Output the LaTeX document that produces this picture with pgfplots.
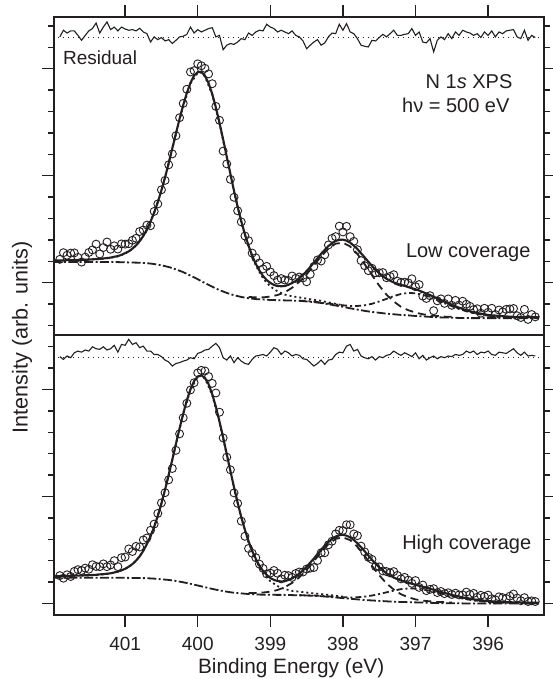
\documentclass[border=0pt]{standalone}
\usepackage{fontspec}
\setmainfont{Liberation Sans}
\usepackage{pgfplots}
\usepackage{pgfplotstable}
\pgfplotsset{compat=1.18}
\definecolor{ink}{HTML}{231F20}

% ---------------- top panel (low coverage) ----------------
\pgfplotstableread{
x y
401.90 16.09
401.85 16.40
401.80 16.28
401.75 16.38
401.70 16.39
401.65 16.18
401.60 15.96
401.55 16.19
401.50 16.41
401.45 16.53
401.40 16.80
401.35 16.34
401.30 16.64
401.25 16.90
401.20 16.56
401.15 16.72
401.10 16.57
401.05 16.81
401.00 16.80
400.95 16.82
400.90 16.98
400.85 17.07
400.80 17.39
400.75 17.46
400.70 17.69
400.65 17.66
400.60 18.33
400.55 18.68
400.50 19.34
400.45 19.78
400.40 20.51
400.35 21.02
400.30 21.87
400.25 22.71
400.20 23.38
400.15 24.04
400.10 24.85
400.05 24.91
400.00 25.23
399.95 25.14
399.90 25.02
399.85 24.76
399.80 24.30
399.75 23.24
399.70 22.59
399.65 21.15
399.60 20.55
399.55 19.83
399.50 18.99
399.45 18.36
399.40 17.84
399.35 17.18
399.30 16.96
399.25 16.38
399.20 16.16
399.15 15.92
399.10 15.64
399.05 15.76
399.00 15.50
398.95 15.33
398.90 15.12
398.85 15.19
398.80 15.12
398.75 15.10
398.70 15.31
398.65 15.20
398.60 15.26
398.55 15.22
398.50 15.04
398.45 15.39
398.40 15.75
398.35 16.06
398.30 16.01
398.25 16.30
398.20 16.76
398.15 17.07
398.10 17.15
398.05 17.64
398.00 17.37
397.95 17.63
397.90 17.15
397.85 16.93
397.80 16.54
397.75 16.03
397.70 15.79
397.65 15.56
397.60 15.67
397.55 15.46
397.50 15.46
397.45 15.47
397.40 15.23
397.35 15.29
397.30 15.37
397.25 15.07
397.20 15.01
397.15 15.02
397.10 14.99
397.05 15.18
397.00 14.81
396.95 14.91
396.90 14.37
396.85 14.26
396.80 14.39
396.75 13.69
396.70 14.15
396.65 14.24
396.60 14.03
396.55 14.24
396.50 13.94
396.45 14.17
396.40 13.95
396.35 14.13
396.30 13.99
396.25 13.89
396.20 13.74
396.15 13.78
396.10 13.57
396.05 13.80
396.00 13.61
395.95 13.80
395.90 13.51
395.85 13.72
395.80 13.63
395.75 13.75
395.70 13.77
395.65 13.79
395.60 13.45
395.55 13.37
395.50 13.75
395.45 13.28
395.40 13.51
395.35 13.40
}\topdata

\pgfplotstableread{
x y
401.90 26.49
401.85 26.80
401.80 26.67
401.75 26.77
401.70 26.77
401.65 26.56
401.60 26.33
401.55 26.56
401.50 26.77
401.45 26.88
401.40 27.14
401.35 26.67
401.30 26.95
401.25 27.19
401.20 26.83
401.15 26.95
401.10 26.77
401.05 26.95
401.00 26.86
400.95 26.80
400.90 26.83
400.85 26.77
400.80 26.89
400.75 26.72
400.70 26.64
400.65 26.25
400.60 26.49
400.55 26.36
400.50 26.46
400.45 26.30
400.40 26.36
400.35 26.18
400.30 26.33
400.25 26.49
400.20 26.52
400.15 26.61
400.10 26.95
400.05 26.67
400.00 26.83
399.95 26.72
399.90 26.80
399.85 26.88
399.80 26.92
399.75 26.49
399.70 26.56
399.65 25.89
399.60 26.10
399.55 26.18
399.50 26.14
399.45 26.25
399.40 26.41
399.35 26.36
399.30 26.67
399.25 26.56
399.20 26.72
399.15 26.80
399.10 26.77
399.05 27.08
399.00 26.95
398.95 26.88
398.90 26.72
398.85 26.80
398.80 26.72
398.75 26.64
398.70 26.77
398.65 26.56
398.60 26.49
398.55 26.30
398.50 25.94
398.45 26.10
398.40 26.25
398.35 26.36
398.30 26.10
398.25 26.21
398.20 26.49
398.15 26.67
398.10 26.64
398.05 27.08
398.00 26.80
397.95 27.11
397.90 26.72
397.85 26.64
397.80 26.41
397.75 26.10
397.70 26.05
397.65 26.02
397.60 26.33
397.55 26.30
397.50 26.46
397.45 26.61
397.40 26.49
397.35 26.64
397.30 26.80
397.25 26.56
397.20 26.56
397.15 26.61
397.10 26.64
397.05 26.88
397.00 26.56
396.95 26.72
396.90 26.25
396.85 26.21
396.80 26.41
396.75 25.79
396.70 26.33
396.65 26.49
396.60 26.36
396.55 26.64
396.50 26.41
396.45 26.72
396.40 26.56
396.35 26.80
396.30 26.72
396.25 26.67
396.20 26.56
396.15 26.64
396.10 26.46
396.05 26.72
396.00 26.56
395.95 26.77
395.90 26.49
395.85 26.72
395.80 26.64
395.75 26.77
395.70 26.80
395.65 26.83
395.60 26.49
395.55 26.41
395.50 26.80
395.45 26.33
395.40 26.56
395.35 26.46
}\topres

\pgfplotstableread{
x y
402.00 16.03
401.95 16.04
401.90 16.04
401.85 16.04
401.80 16.05
401.75 16.05
401.70 16.06
401.65 16.06
401.60 16.07
401.55 16.07
401.50 16.08
401.45 16.09
401.40 16.10
401.35 16.11
401.30 16.13
401.25 16.15
401.20 16.17
401.15 16.21
401.10 16.24
401.05 16.30
401.00 16.38
400.95 16.46
400.90 16.59
400.85 16.74
400.80 16.94
400.75 17.18
400.70 17.49
400.65 17.85
400.60 18.28
400.55 18.76
400.50 19.32
400.45 19.92
400.40 20.59
400.35 21.28
400.30 21.98
400.25 22.66
400.20 23.30
400.15 23.87
400.10 24.34
400.05 24.68
400.00 24.84
399.95 24.86
399.90 24.66
399.85 24.32
399.80 23.82
399.75 23.19
399.70 22.47
399.65 21.70
399.60 20.89
399.55 20.09
399.50 19.29
399.45 18.55
399.40 17.87
399.35 17.26
399.30 16.73
399.25 16.26
399.20 15.88
399.15 15.56
399.10 15.31
399.05 15.12
399.00 14.99
398.95 14.89
398.90 14.84
398.85 14.83
398.80 14.84
398.75 14.90
398.70 14.98
398.65 15.08
398.60 15.21
398.55 15.36
398.50 15.54
398.45 15.73
398.40 15.94
398.35 16.14
398.30 16.35
398.25 16.53
398.20 16.71
398.15 16.84
398.10 16.95
398.05 17.00
398.00 17.01
397.95 16.96
397.90 16.87
397.85 16.73
397.80 16.57
397.75 16.37
397.70 16.18
397.65 15.98
397.60 15.78
397.55 15.60
397.50 15.44
397.45 15.30
397.40 15.18
397.35 15.09
397.30 15.01
397.25 14.95
397.20 14.89
397.15 14.85
397.10 14.79
397.05 14.74
397.00 14.69
396.95 14.63
396.90 14.56
396.85 14.49
396.80 14.42
396.75 14.34
396.70 14.26
396.65 14.19
396.60 14.11
396.55 14.04
396.50 13.97
396.45 13.89
396.40 13.83
396.35 13.77
396.30 13.71
396.25 13.66
396.20 13.62
396.15 13.58
396.10 13.55
396.05 13.52
396.00 13.49
395.95 13.47
395.90 13.46
395.85 13.44
395.80 13.43
395.75 13.42
395.70 13.41
395.65 13.40
395.60 13.40
395.55 13.40
395.50 13.39
395.45 13.39
395.40 13.39
395.35 13.38
395.30 13.38
}\topfit

\pgfplotstableread{
x y
402.0 15.96
401.5 15.96
401.1 15.96
401.0 15.95
400.9 15.94
400.8 15.93
400.7 15.91
400.6 15.87
400.5 15.81
400.4 15.73
400.3 15.62
400.2 15.49
400.1 15.33
400.0 15.16
399.9 14.98
399.8 14.81
399.7 14.65
399.6 14.52
399.5 14.41
399.4 14.33
399.3 14.27
399.2 14.23
399.1 14.21
399.0 14.19
398.9 14.18
398.8 14.17
398.7 14.16
398.6 14.15
398.5 14.12
398.4 14.09
398.3 14.05
398.2 13.99
398.1 13.93
398.0 13.87
397.9 13.80
397.8 13.74
397.7 13.68
397.6 13.63
397.5 13.59
397.4 13.55
397.3 13.52
397.2 13.49
397.1 13.47
397.0 13.44
396.9 13.42
396.8 13.40
396.7 13.38
396.6 13.37
396.5 13.36
396.4 13.35
396.2 13.34
395.3 13.34
}\topbg

\pgfplotstableread{
x y
401.6 16.06
401.5 16.07
401.4 16.09
401.3 16.12
401.2 16.16
401.1 16.23
401.0 16.36
400.9 16.57
400.8 16.92
400.7 17.48
400.6 18.26
400.5 19.30
400.4 20.57
400.3 21.95
400.2 23.27
400.1 24.31
400.0 24.81
399.95 24.82
399.9 24.63
399.8 23.79
399.7 22.43
399.6 20.85
399.5 19.25
399.4 17.82
399.3 16.66
399.2 15.80
399.1 15.20
399.0 14.82
398.9 14.59
398.8 14.44
398.7 14.36
398.6 14.31
398.5 14.25
398.4 14.20
398.3 14.15
398.2 14.08
398.1 14.01
398.0 13.94
}\topa

\pgfplotstableread{
x y
399.3 14.33
399.2 14.31
399.1 14.31
399.0 14.35
398.9 14.42
398.8 14.55
398.7 14.76
398.6 15.04
398.5 15.39
398.4 15.81
398.3 16.23
398.2 16.59
398.1 16.82
398.0 16.87
397.9 16.69
397.8 16.34
397.7 15.86
397.6 15.35
397.5 14.86
397.4 14.44
397.3 14.12
397.2 13.87
397.1 13.71
397.0 13.60
396.9 13.52
396.8 13.47
396.7 13.44
396.6 13.41
396.5 13.40
}\topb

\pgfplotstableread{
x y
398.6 14.16
398.4 14.11
398.2 14.02
398.0 13.94
397.9 13.91
397.8 13.91
397.7 13.94
397.6 14.01
397.5 14.12
397.4 14.24
397.3 14.37
397.2 14.47
397.1 14.52
397.05 14.51
397.0 14.50
396.9 14.43
396.8 14.32
396.7 14.18
396.6 14.04
396.5 13.90
396.4 13.77
396.3 13.66
396.2 13.57
396.1 13.51
396.0 13.45
395.9 13.42
395.8 13.40
395.7 13.38
395.5 13.36
395.3 13.36
}\topc

% ---------------- bottom panel (high coverage) ----------------
\pgfplotstableread{
x y
401.90 1.30
401.85 1.18
401.80 1.34
401.75 1.26
401.70 1.50
401.65 1.58
401.60 1.54
401.55 1.65
401.50 1.60
401.45 1.81
401.40 1.73
401.35 1.72
401.30 1.85
401.25 1.72
401.20 1.80
401.15 2.00
401.10 1.72
401.05 2.14
401.00 2.17
400.95 2.55
400.90 2.43
400.85 2.67
400.80 2.64
400.75 2.97
400.70 3.06
400.65 3.42
400.60 3.71
400.55 4.21
400.50 4.70
400.45 5.18
400.40 5.78
400.35 6.31
400.30 7.16
400.25 7.93
400.20 8.68
400.15 9.36
400.10 9.98
400.05 10.32
400.00 10.78
399.95 10.90
399.90 10.87
399.85 10.61
399.80 10.29
399.75 9.84
399.70 8.94
399.65 7.74
399.60 6.84
399.55 6.25
399.50 5.17
399.45 4.68
399.40 3.85
399.35 3.14
399.30 2.57
399.25 2.35
399.20 2.14
399.15 1.84
399.10 1.64
399.05 1.38
399.00 1.42
398.95 1.54
398.90 1.41
398.85 1.15
398.80 1.32
398.75 1.30
398.70 1.22
398.65 1.40
398.60 1.47
398.55 1.47
398.50 1.61
398.45 1.65
398.40 1.68
398.35 2.01
398.30 2.37
398.25 2.37
398.20 2.74
398.15 2.91
398.10 3.25
398.05 3.42
398.00 3.41
397.95 3.68
397.90 3.68
397.85 3.25
397.80 3.17
397.75 2.68
397.70 2.41
397.65 2.16
397.60 2.06
397.55 1.72
397.50 1.71
397.45 1.52
397.40 1.49
397.35 1.43
397.30 1.49
397.25 1.31
397.20 1.15
397.15 1.22
397.10 1.09
397.05 0.94
397.00 1.07
396.95 0.75
396.90 0.86
396.85 0.60
396.80 0.66
396.75 0.69
396.70 0.51
396.65 0.56
396.60 0.46
396.55 0.50
396.50 0.42
396.45 0.48
396.40 0.40
396.35 0.40
396.30 0.53
396.25 0.42
396.20 0.47
396.15 0.29
396.10 0.38
396.05 0.32
396.00 0.39
395.95 0.22
395.90 0.17
395.85 0.31
395.80 0.27
395.75 0.23
395.70 0.34
395.65 0.44
395.60 0.25
395.55 0.13
395.50 0.27
395.45 0.09
395.40 0.12
395.35 0.09
}\botdata

\pgfplotstableread{
x y
401.90 11.54
401.85 11.41
401.80 11.57
401.75 11.49
401.70 11.72
401.65 11.80
401.60 11.75
401.55 11.85
401.50 11.80
401.45 12.00
401.40 11.91
401.35 11.88
401.30 12.00
401.25 11.85
401.20 11.91
401.15 12.07
401.10 11.75
401.05 12.11
401.00 12.07
400.95 12.35
400.90 12.11
400.85 12.19
400.80 11.96
400.75 12.03
400.70 11.80
400.65 11.80
400.60 11.64
400.55 11.64
400.50 11.54
400.45 11.38
400.40 11.29
400.35 11.10
400.30 11.22
400.25 11.26
400.20 11.33
400.15 11.38
400.10 11.49
400.05 11.44
400.00 11.69
399.95 11.75
399.90 11.85
399.85 11.88
399.80 12.03
399.75 12.16
399.70 11.96
399.65 11.49
399.60 11.38
399.55 11.57
399.50 11.26
399.45 11.49
399.40 11.33
399.35 11.22
399.30 11.18
399.25 11.41
399.20 11.57
399.15 11.60
399.10 11.64
399.05 11.57
399.00 11.75
398.95 11.96
398.90 11.88
398.85 11.64
398.80 11.80
398.75 11.72
398.70 11.57
398.65 11.64
398.60 11.60
398.55 11.44
398.50 11.41
398.45 11.26
398.40 11.10
398.35 11.22
398.30 11.38
398.25 11.18
398.20 11.38
398.15 11.41
398.10 11.64
398.05 11.75
398.00 11.72
397.95 12.03
397.90 12.11
397.85 11.80
397.80 11.88
397.75 11.57
397.70 11.49
397.65 11.44
397.60 11.54
397.55 11.38
397.50 11.54
397.45 11.49
397.40 11.60
397.35 11.64
397.30 11.80
397.25 11.69
397.20 11.60
397.15 11.72
397.10 11.64
397.05 11.54
397.00 11.72
396.95 11.44
396.90 11.60
396.85 11.38
396.80 11.49
396.75 11.57
396.70 11.44
396.65 11.54
396.60 11.49
396.55 11.57
396.50 11.54
396.45 11.64
396.40 11.60
396.35 11.64
396.30 11.80
396.25 11.72
396.20 11.80
396.15 11.64
396.10 11.75
396.05 11.72
396.00 11.80
395.95 11.64
395.90 11.60
395.85 11.75
395.80 11.72
395.75 11.69
395.70 11.80
395.65 11.91
395.60 11.72
395.55 11.60
395.50 11.75
395.45 11.57
395.40 11.60
395.35 11.57
}\botres

\pgfplotstableread{
x y
402.00 1.27
401.95 1.28
401.90 1.28
401.85 1.29
401.80 1.29
401.75 1.29
401.70 1.30
401.65 1.30
401.60 1.31
401.55 1.32
401.50 1.32
401.45 1.33
401.40 1.34
401.35 1.36
401.30 1.37
401.25 1.39
401.20 1.41
401.15 1.45
401.10 1.49
401.05 1.55
401.00 1.62
400.95 1.72
400.90 1.84
400.85 2.00
400.80 2.20
400.75 2.46
400.70 2.78
400.65 3.14
400.60 3.59
400.55 4.09
400.50 4.68
400.45 5.32
400.40 6.01
400.35 6.73
400.30 7.46
400.25 8.19
400.20 8.87
400.15 9.50
400.10 10.01
400.05 10.40
400.00 10.61
399.95 10.67
399.90 10.54
399.85 10.25
399.80 9.78
399.75 9.20
399.70 8.50
399.65 7.77
399.60 6.98
399.55 6.20
399.50 5.43
399.45 4.71
399.40 4.04
399.35 3.44
399.30 2.91
399.25 2.46
399.20 2.09
399.15 1.76
399.10 1.52
399.05 1.33
399.00 1.19
398.95 1.10
398.90 1.05
398.85 1.03
398.80 1.04
398.75 1.10
398.70 1.17
398.65 1.28
398.60 1.39
398.55 1.55
398.50 1.72
398.45 1.91
398.40 2.10
398.35 2.31
398.30 2.51
398.25 2.71
398.20 2.88
398.15 3.02
398.10 3.13
398.05 3.19
398.00 3.21
397.95 3.17
397.90 3.09
397.85 2.97
397.80 2.81
397.75 2.63
397.70 2.44
397.65 2.24
397.60 2.04
397.55 1.86
397.50 1.69
397.45 1.55
397.40 1.41
397.35 1.31
397.30 1.21
397.25 1.14
397.20 1.07
397.15 1.02
397.10 0.97
397.05 0.92
397.00 0.87
396.95 0.83
396.90 0.78
396.85 0.74
396.80 0.69
396.75 0.64
396.70 0.59
396.65 0.54
396.60 0.49
396.55 0.45
396.50 0.40
396.45 0.36
396.40 0.32
396.35 0.28
396.30 0.25
396.25 0.22
396.20 0.19
396.15 0.17
396.10 0.15
396.05 0.12
396.00 0.11
395.95 0.10
395.90 0.09
395.85 0.08
395.80 0.07
395.75 0.06
395.70 0.06
395.65 0.05
395.60 0.05
395.55 0.05
395.50 0.04
395.45 0.04
395.40 0.04
395.35 0.04
395.30 0.04
}\botfit

\pgfplotstableread{
x y
402.0 1.20
401.1 1.20
401.0 1.20
400.9 1.19
400.8 1.19
400.7 1.18
400.6 1.16
400.5 1.13
400.4 1.10
400.3 1.05
400.2 0.99
400.1 0.92
400.0 0.84
399.9 0.76
399.8 0.68
399.7 0.61
399.6 0.55
399.5 0.50
399.4 0.47
399.3 0.44
399.2 0.42
399.1 0.41
399.0 0.41
398.9 0.40
398.8 0.40
398.7 0.39
398.6 0.38
398.5 0.37
398.4 0.36
398.3 0.34
398.2 0.31
398.1 0.28
398.0 0.25
397.9 0.22
397.8 0.19
397.7 0.16
397.6 0.14
397.5 0.12
397.4 0.10
397.3 0.08
397.2 0.07
397.1 0.06
397.0 0.05
396.9 0.04
396.8 0.03
396.7 0.02
396.6 0.01
396.5 0.01
396.3 0.00
395.3 0.00
}\botbg

\pgfplotstableread{
x y
401.6 1.30
401.5 1.31
401.4 1.33
401.3 1.36
401.2 1.40
401.1 1.48
401.0 1.61
400.9 1.83
400.8 2.19
400.7 2.77
400.6 3.57
400.5 4.66
400.4 5.99
400.3 7.44
400.2 8.85
400.1 9.99
400.0 10.59
399.95 10.65
399.9 10.51
399.8 9.75
399.7 8.47
399.6 6.94
399.5 5.39
399.4 4.00
399.3 2.85
399.2 2.01
399.1 1.41
399.0 1.04
398.9 0.81
398.8 0.67
398.7 0.59
398.6 0.55
398.5 0.51
398.4 0.47
398.3 0.44
398.2 0.40
398.1 0.36
398.0 0.32
}\bota

\pgfplotstableread{
x y
399.3 0.49
399.2 0.49
399.1 0.51
399.0 0.55
398.9 0.63
398.8 0.76
398.7 0.96
398.6 1.22
398.5 1.57
398.4 1.98
398.3 2.40
398.2 2.77
398.1 3.02
398.0 3.09
397.9 2.96
397.8 2.65
397.7 2.22
397.6 1.76
397.5 1.32
397.4 0.94
397.3 0.65
397.2 0.43
397.1 0.29
397.0 0.19
396.9 0.13
396.8 0.10
396.7 0.07
396.6 0.06
396.5 0.04
}\botb

\pgfplotstableread{
x y
398.6 0.39
398.4 0.37
398.2 0.33
398.0 0.29
397.9 0.28
397.8 0.29
397.7 0.32
397.6 0.37
397.5 0.44
397.4 0.52
397.3 0.60
397.2 0.67
397.1 0.70
397.05 0.70
397.0 0.69
396.9 0.65
396.8 0.59
396.7 0.51
396.6 0.43
396.5 0.34
396.4 0.26
396.3 0.20
396.2 0.14
396.1 0.10
396.0 0.07
395.9 0.05
395.8 0.03
395.7 0.03
395.5 0.01
395.3 0.01
}\botc

\begin{document}
\begin{tikzpicture}
\path[use as bounding box] (-27pt,-32pt) rectangle (249pt,307.5pt);
\begin{axis}[
    scale only axis,
    width=245pt, height=299pt,
    x dir=reverse,
    xmin=395.23, xmax=401.98,
    ymin=-0.54, ymax=27.42,
    xtick={396,397,398,399,400,401},
    ytick={0,5,10,15,20,25},
    yticklabels={},
    minor ytick={1,2,3,4,6,7,8,9,11,12,13,14,16,17,18,19,21,22,23,24,26,27},
    tick align=outside,
    major tick length=6pt,
    minor tick length=3pt,
    xtick pos=both, ytick pos=both,
    xticklabel pos=bottom,
    axis line style={ink, line width=0.7pt},
    every tick/.style={ink, line width=0.7pt},
    /pgf/number format/assume math mode=true,
    tick label style={font=\fontsize{9.5}{11}\selectfont, text=ink},
    xticklabel style={yshift=-1.8pt},
    xlabel={Binding Energy (eV)},
    ylabel={Intensity (arb. units)},
    every axis x label/.style={at={(axis description cs:0.484,-0.0975)}, anchor=base,
        font=\fontsize{10.4}{12}\selectfont, text=ink},
    every axis y label/.style={at={(axis description cs:-0.0653,0.464)}, rotate=90, anchor=center,
        font=\fontsize{10.8}{12}\selectfont, text=ink},
    clip=true,
]
% divider between the panels and residual zero lines
\addplot[ink, line width=0.7pt] coordinates {(401.98,12.55) (395.23,12.55)};
\addplot[ink, dotted, line width=0.5pt] coordinates {(401.92,26.44) (395.28,26.44)};
\addplot[ink, dotted, line width=0.5pt] coordinates {(401.92,11.52) (395.28,11.52)};

% residuals
\addplot[ink, line width=0.55pt] table {\topres};
\addplot[ink, line width=0.55pt] table {\botres};

% components
\addplot[ink, line width=0.9pt, dash pattern=on 1pt off 1.5pt] table {\topa};
\addplot[ink, line width=0.9pt, dash pattern=on 4pt off 2.5pt] table {\topb};
\addplot[ink, line width=0.9pt, dash pattern=on 3pt off 1.5pt on 1pt off 1.5pt] table {\topc};
\addplot[ink, line width=0.9pt, dash pattern=on 1pt off 1.5pt] table {\bota};
\addplot[ink, line width=0.9pt, dash pattern=on 4pt off 2.5pt] table {\botb};
\addplot[ink, line width=0.9pt, dash pattern=on 3pt off 1.5pt on 1pt off 1.5pt] table {\botc};

% backgrounds
\addplot[ink, line width=0.9pt, dash pattern=on 4.5pt off 1.2pt on 1pt off 1.2pt] table {\topbg};
\addplot[ink, line width=0.9pt, dash pattern=on 4.5pt off 1.2pt on 1pt off 1.2pt] table {\botbg};

% data
\addplot[ink, only marks, mark=o, mark size=2pt, mark options={line width=0.45pt}] table {\topdata};
\addplot[ink, only marks, mark=o, mark size=2pt, mark options={line width=0.45pt}] table {\botdata};

% fits
\addplot[ink, line width=1.05pt] table {\topfit};
\addplot[ink, line width=1.05pt] table {\botfit};

\node[anchor=base west, inner sep=0pt, font=\fontsize{9.5}{11}\selectfont, text=ink]
    at (axis cs:401.86,25.21) {Residual};
\node[anchor=base east, inner sep=0pt, font=\fontsize{10}{12}\selectfont, text=ink]
    at (axis cs:395.66,24.09) {N 1\textit{s} XPS};
\node[anchor=base east, inner sep=0pt, font=\fontsize{10}{12}\selectfont, text=ink]
    at (axis cs:395.70,22.97) {hν = 500 eV};
\node[anchor=base east, inner sep=0pt, font=\fontsize{10}{12}\selectfont, text=ink]
    at (axis cs:395.41,16.19) {Low coverage};
\node[anchor=base east, inner sep=0pt, font=\fontsize{10}{12}\selectfont, text=ink]
    at (axis cs:395.40,2.50) {High coverage};
\end{axis}
\end{tikzpicture}
\end{document}
